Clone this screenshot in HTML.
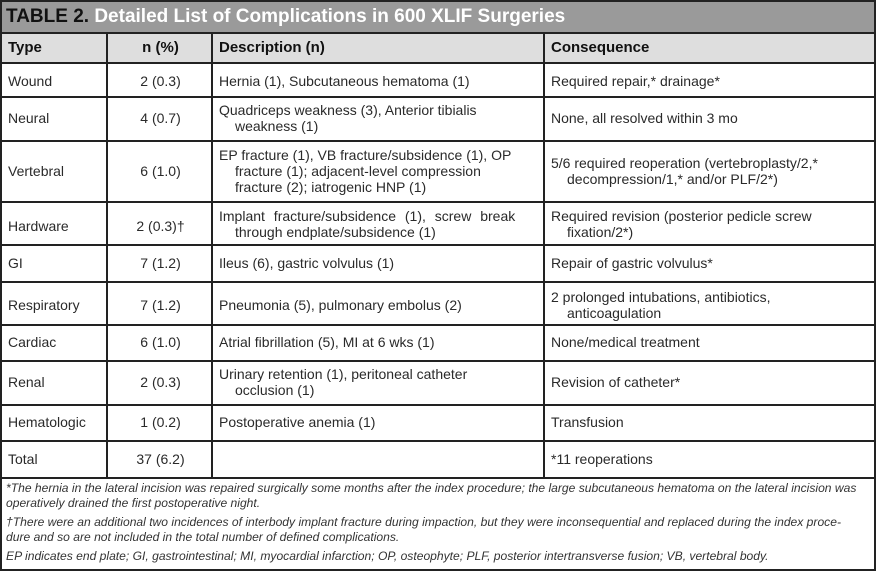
<!DOCTYPE html>
<html><head><meta charset="utf-8"><style>
*{margin:0;padding:0;box-sizing:border-box}
body{width:876px;height:571px;background:#fff;position:relative;overflow:hidden;font-family:"Liberation Sans",sans-serif;color:#222}
.a{position:absolute}
.hl{position:absolute;left:0;width:876px;height:2px;background:#222}
.vl{position:absolute;width:2px;background:#222}
.t{position:absolute;font-size:14px;line-height:16px;white-space:nowrap;color:#2a2a2a}
.c{text-align:center;width:105px}
.f{position:absolute;left:6px;font-size:12.1px;font-style:italic;white-space:nowrap;color:#333;line-height:15px}
</style></head><body>
<div class="a" style="left:0;top:0;width:876px;height:33px;background:#9a9a9a;border:2px solid #222;border-bottom:none"></div>
<div class="t" style="left:6px;top:6px;font-size:19px;line-height:22px;font-weight:bold;color:#fff"><span style="color:#111">TABLE 2.</span> Detailed List of Complications in 600 XLIF Surgeries</div>
<div class="a" style="left:0;top:33px;width:876px;height:30px;background:#dedede"></div>
<div class="hl" style="top:32px"></div><div class="hl" style="top:62px"></div>
<div class="hl" style="top:96px"></div><div class="hl" style="top:140px"></div>
<div class="hl" style="top:201px"></div><div class="hl" style="top:244px"></div>
<div class="hl" style="top:281px"></div><div class="hl" style="top:324px"></div>
<div class="hl" style="top:360px"></div><div class="hl" style="top:404px"></div>
<div class="hl" style="top:440px"></div><div class="hl" style="top:477px"></div>
<div class="hl" style="top:569px"></div>
<div class="vl" style="left:0;top:0;height:571px"></div>
<div class="vl" style="left:874px;top:0;height:571px"></div>
<div class="vl" style="left:106px;top:33px;height:445px"></div>
<div class="vl" style="left:211px;top:33px;height:445px"></div>
<div class="vl" style="left:543px;top:33px;height:445px"></div>

<div class="t" style="left:8px;top:40px;font-weight:bold;font-size:15px;color:#111">Type</div>
<div class="t c" style="left:108px;top:40px;font-weight:bold;font-size:15px;color:#111">n (%)</div>
<div class="t" style="left:219px;top:40px;font-weight:bold;font-size:15px;color:#111">Description (n)</div>
<div class="t" style="left:551px;top:40px;font-weight:bold;font-size:15px;color:#111">Consequence</div>

<div>
<div class="t" style="left:8px;top:73px">Wound</div><div class="t c" style="left:108px;top:73px">2 (0.3)</div>
<div class="t" style="left:219px;top:73px">Hernia (1), Subcutaneous hematoma (1)</div>
<div class="t" style="left:551px;top:73px">Required repair,* drainage*</div></div>

<div>
<div class="t" style="left:8px;top:110px">Neural</div><div class="t c" style="left:108px;top:110px">4 (0.7)</div>
<div class="t" style="left:219px;top:102px">Quadriceps weakness (3), Anterior tibialis</div>
<div class="t" style="left:235px;top:118px">weakness (1)</div>
<div class="t" style="left:551px;top:110px">None, all resolved within 3 mo</div></div>

<div>
<div class="t" style="left:8px;top:163px">Vertebral</div><div class="t c" style="left:108px;top:163px">6 (1.0)</div>
<div class="t" style="left:219px;top:147px">EP fracture (1), VB fracture/subsidence (1), OP</div>
<div class="t" style="left:235px;top:163px">fracture (1); adjacent-level compression</div>
<div class="t" style="left:235px;top:179px">fracture (2); iatrogenic HNP (1)</div>
<div class="t" style="left:551px;top:155px">5/6 required reoperation (vertebroplasty/2,*</div>
<div class="t" style="left:567px;top:171px">decompression/1,* and/or PLF/2*)</div></div>

<div>
<div class="t" style="left:8px;top:218px">Hardware</div><div class="t c" style="left:108px;top:218px">2 (0.3)†</div>
<div class="t" style="left:219px;top:208px;word-spacing:5px">Implant fracture/subsidence (1), screw break</div>
<div class="t" style="left:235px;top:224px">through endplate/subsidence (1)</div>
<div class="t" style="left:551px;top:208px">Required revision (posterior pedicle screw</div>
<div class="t" style="left:567px;top:224px">fixation/2*)</div></div>

<div>
<div class="t" style="left:8px;top:255px">GI</div><div class="t c" style="left:108px;top:255px">7 (1.2)</div>
<div class="t" style="left:219px;top:255px">Ileus (6), gastric volvulus (1)</div>
<div class="t" style="left:551px;top:255px">Repair of gastric volvulus*</div></div>

<div>
<div class="t" style="left:8px;top:297px">Respiratory</div><div class="t c" style="left:108px;top:297px">7 (1.2)</div>
<div class="t" style="left:219px;top:297px">Pneumonia (5), pulmonary embolus (2)</div>
<div class="t" style="left:551px;top:289px">2 prolonged intubations, antibiotics,</div>
<div class="t" style="left:567px;top:305px">anticoagulation</div></div>

<div>
<div class="t" style="left:8px;top:334px">Cardiac</div><div class="t c" style="left:108px;top:334px">6 (1.0)</div>
<div class="t" style="left:219px;top:334px">Atrial fibrillation (5), MI at 6 wks (1)</div>
<div class="t" style="left:551px;top:334px">None/medical treatment</div></div>

<div>
<div class="t" style="left:8px;top:374px">Renal</div><div class="t c" style="left:108px;top:374px">2 (0.3)</div>
<div class="t" style="left:219px;top:366px">Urinary retention (1), peritoneal catheter</div>
<div class="t" style="left:235px;top:382px">occlusion (1)</div>
<div class="t" style="left:551px;top:374px">Revision of catheter*</div></div>

<div>
<div class="t" style="left:8px;top:414px">Hematologic</div><div class="t c" style="left:108px;top:414px">1 (0.2)</div>
<div class="t" style="left:219px;top:414px">Postoperative anemia (1)</div>
<div class="t" style="left:551px;top:414px">Transfusion</div></div>

<div>
<div class="t" style="left:8px;top:451px">Total</div><div class="t c" style="left:108px;top:451px">37 (6.2)</div>
<div class="t" style="left:551px;top:451px">*11 reoperations</div></div>

<div>
<div class="f" style="top:481px">*The hernia in the lateral incision was repaired surgically some months after the index procedure; the large subcutaneous hematoma on the lateral incision was</div>
<div class="f" style="top:496px">operatively drained the first postoperative night.</div>
<div class="f" style="top:515px">†There were an additional two incidences of interbody implant fracture during impaction, but they were inconsequential and replaced during the index proce-</div>
<div class="f" style="top:530px">dure and so are not included in the total number of defined complications.</div>
<div class="f" style="top:549px">EP indicates end plate; GI, gastrointestinal; MI, myocardial infarction; OP, osteophyte; PLF, posterior intertransverse fusion; VB, vertebral body.</div>
</div>
</body></html>
